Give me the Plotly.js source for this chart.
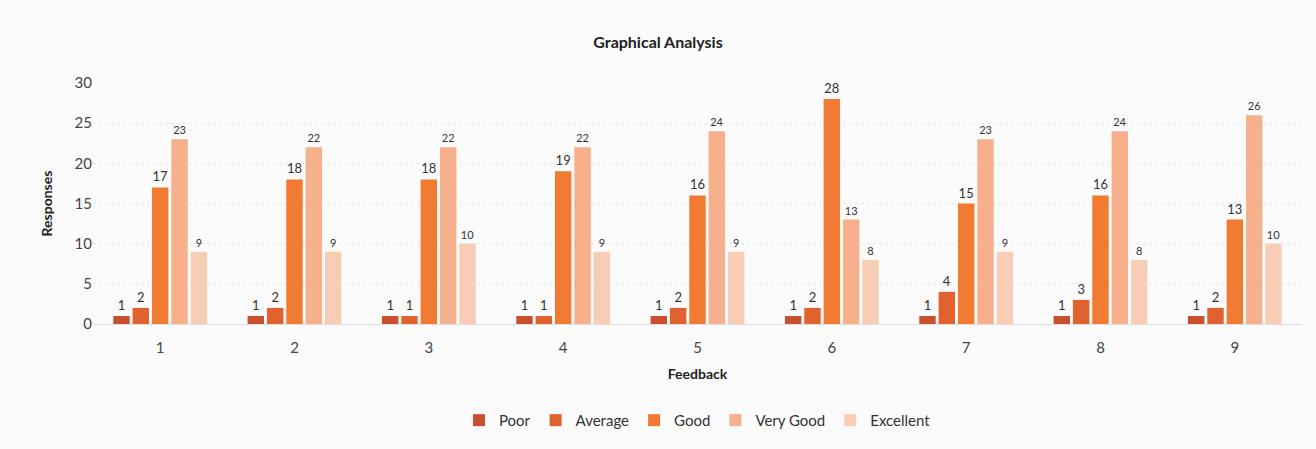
<!DOCTYPE html>
<html><head><meta charset="utf-8">
<script src="https://cdn.plot.ly/plotly-3.0.1.min.js"></script>
<style>html,body{margin:0;padding:0;background:#fff}#chart{width:1316px;height:449px}</style>
</head><body><div id="chart"></div>
<script>
const categories = ['1','2','3','4','5','6','7','8','9'];
const poor = [1,1,1,1,1,1,1,1,1];
const average = [2,2,1,1,2,2,4,3,2];
const good = [17,18,18,19,16,28,15,16,13];
const veryGood = [23,22,22,22,24,13,23,24,26];
const excellent = [9,9,10,9,9,8,9,8,10];
const seriesNames = ['Poor','Average','Good','Very Good','Excellent'];
const seriesValues = [poor, average, good, veryGood, excellent];
const colors = ['#c9502f','#e2622f','#f27b33','#f6b08c','#f8cdb6'];
const labelSizes = [13,13,13,11,11];
const font = 'Lato, "Open Sans", sans-serif';
const traces = seriesNames.map((n,i)=>({
  type:'bar', name:n, x:categories, y:seriesValues[i],
  marker:{color:colors[i]},
  text:seriesValues[i].map(String), textposition:'outside', cliponaxis:false,
  textfont:{family:font,size:labelSizes[i],color:'#333'}
}));
const layout = {
  width:1316, height:449,
  paper_bgcolor:'#fbfbfb', plot_bgcolor:'#fbfbfb',
  margin:{l:93,r:14,t:83,b:121},
  font:{family:font,color:'#333'},
  title:{text:'<b>Graphical Analysis</b>', x:0.5, xanchor:'center', y:0.905, yanchor:'middle', font:{size:16,color:'#222'}},
  barmode:'group', bargap:0.28, bargroupgap:0.15,
  xaxis:{type:'category', tickfont:{size:15,color:'#444'}, ticklabelstandoff:10, title:{text:'<b>Feedback</b>', font:{size:14,color:'#222'}, standoff:14}, showline:true, linecolor:'#ddd', ticks:''},
  yaxis:{range:[0,30], dtick:5, tickfont:{size:15,color:'#444'}, gridcolor:'#e6e6e6', griddash:'dot', zeroline:false, title:{text:'<b>Responses</b>', font:{size:14,color:'#222'}, standoff:18}},
  showlegend:true,
  legend:{orientation:'h', x:0.5, xanchor:'center', y:-0.4, yanchor:'middle', font:{size:15,color:'#333'}, itemwidth:30, traceorder:'normal'}
};
Plotly.newPlot('chart', traces, layout, {displayModeBar:false});
</script></body></html>
